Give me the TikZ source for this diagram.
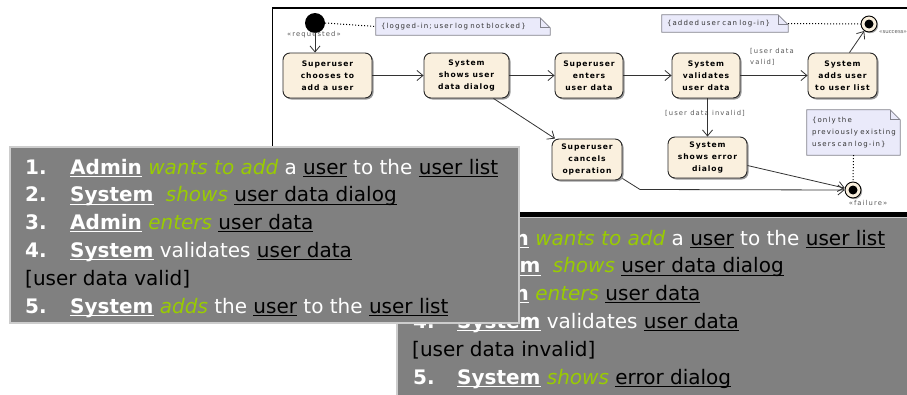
\documentclass[tikz,border=0pt]{standalone}
\usepackage{fontspec}
\setmainfont{DejaVu Sans}
\newfontfamily\dfont[LetterSpace=12]{DejaVu Sans}
\newfontfamily\nfont[LetterSpace=16]{DejaVu Sans}
\usetikzlibrary{arrows.meta,shadows,backgrounds}
\definecolor{boxgray}{RGB}{128,128,128}
\definecolor{boxedge}{RGB}{205,205,205}
\definecolor{verbgreen}{RGB}{153,204,0}
\definecolor{statefill}{RGB}{250,240,222}
\definecolor{notefill}{RGB}{234,234,250}
\definecolor{noteedge}{RGB}{130,130,140}
\definecolor{lblgray}{RGB}{90,90,90}
\newsavebox\ulbox
\newcommand\myul[1]{\leavevmode\sbox\ulbox{#1}\rlap{\rule[-2.6pt]{\wd\ulbox}{0.9pt}}\usebox\ulbox}
\newcommand\Actor[1]{{\bfseries\color{white}\myul{#1}}}
\newcommand\Verb[1]{{\itshape\color{verbgreen}#1}}
\newcommand\Obj[1]{{\color{black}\myul{#1}}}
\tikzset{
  actbox/.style={rounded corners=7pt, draw=black!85, line width=0.9pt, fill=statefill,
    minimum height=45pt, align=center, inner sep=2pt,
    font=\dfont\bfseries\fontsize{7.6}{12.2}\selectfont,
    drop shadow={shadow xshift=1.5pt, shadow yshift=-1.5pt, fill=black!40, opacity=1}},
  notebox/.style={align=left, inner xsep=5pt, inner ysep=1pt, text=black!80,
    font=\nfont\fontsize{7}{11.7}\selectfont},
  notedraw/.style={draw=noteedge, fill=notefill, line width=0.7pt},
  lbl/.style={inner sep=0pt, text=lblgray, font=\nfont\fontsize{6.8}{11}\selectfont, align=left},
  flow/.style={draw=black!80, line width=0.8pt, -{Straight Barb[length=6pt,width=10pt]}},
  dotline/.style={draw=black, line width=1pt, dotted},
  tline/.style={anchor=base west, inner sep=0pt, text=white, font=\fontsize{20}{24}\selectfont},
  graybox/.style={fill=boxgray, draw=boxedge, line width=1.3pt}
}
\begin{document}
\begin{tikzpicture}[x=1pt,y=1pt]
\useasboundingbox (0,0) rectangle (907,-394);
% diagram frame
\draw[black, line width=1.2pt] (272.5,-147) -- (272.5,-8) -- (907,-8);
% start / end states
\node[circle, fill=black, minimum size=20pt, inner sep=0pt] (init) at (315,-23) {};
\node[circle, draw=black, line width=0.9pt, fill=statefill, minimum size=16pt, inner sep=0pt,
  drop shadow={shadow xshift=1.2pt, shadow yshift=-1.2pt, fill=black!35, opacity=1}] (succ) at (869,-24) {};
\node[circle, fill=black, minimum size=9pt, inner sep=0pt] (succin) at (succ) {};
\node[circle, draw=black, line width=0.9pt, fill=statefill, minimum size=16pt, inner sep=0pt,
  drop shadow={shadow xshift=1.2pt, shadow yshift=-1.2pt, fill=black!35, opacity=1}] (fail) at (853,-190) {};
\node[circle, fill=black, minimum size=9pt, inner sep=0pt] (failin) at (fail) {};
\node[lbl] (lreq) at (314,-35) {«requested»};
\node[lbl, anchor=west, font=\fontsize{5.4}{8}\selectfont] (lsucc) at (879,-32) {«success»};
\node[lbl] (lfail) at (868,-203) {«failure»};
% actions
\node[actbox, minimum width=89pt] (n1) at (327.5,-75.5) {Superuser\\chooses to\\add a user};
\node[actbox, minimum width=85pt] (n2) at (466.5,-75.5) {System\\shows user\\data dialog};
\node[actbox, minimum width=68pt] (n3) at (589,-75.5) {Superuser\\enters\\user data};
\node[actbox, minimum width=68pt] (n4) at (706,-75.5) {System\\validates\\user data};
\node[actbox, minimum width=69pt] (n5) at (842.5,-75.5) {System\\adds user\\to user list};
\node[actbox, minimum width=70pt, minimum height=41pt] (ncan) at (587,-159.5) {Superuser\\cancels\\operation};
\node[actbox, minimum width=79pt, minimum height=41pt] (nerr) at (707.5,-157.5) {System\\shows error\\dialog};
% notes
\node[notebox, text width=164pt, minimum height=17pt] (note1) at (463,-26.5) {\{logged-in; user log not blocked\}};
\node[notebox, text width=116pt, minimum height=17pt] (note2) at (725,-23.5) {\{added user can log-in\}};
\node[notebox, text width=83pt, minimum height=45pt] (note3) at (853.5,-132.5) {\{only the\\previously existing\\users can log-in\}};
\begin{scope}[on background layer]
\foreach \n in {note1,note2,note3}{
  \draw[notedraw] (\n.south west) -- (\n.north west) -- ([xshift=-10pt]\n.north east)
    -- ([yshift=-10pt]\n.north east) -- (\n.south east) -- cycle;
  \draw[draw=noteedge, line width=0.7pt] ([xshift=-10pt]\n.north east) -- ([xshift=-10pt,yshift=-10pt]\n.north east)
    -- ([yshift=-10pt]\n.north east);
}
\end{scope}
% guards
\node[lbl, anchor=west] (gvalid) at (750,-57) {[user data\\valid]};
\node[lbl] (ginvalid) at (705,-113) {[user data invalid]};
% connectors
\draw[dotline] (init.east) -- (note1.west);
\draw[dotline] (note2.east) -- (succ.west);
\draw[dotline] (note3.south) -- (fail.north);
\draw[flow] (init.south) -- (init.south |- n1.north);
\draw[flow] (n1) -- (n2);
\draw[flow] (n2) -- (n3);
\draw[flow] (n3) -- (n4);
\draw[flow] (n4) -- (n5);
\draw[flow] ([xshift=7pt]n5.north) -- (succ);
\draw[flow] ([xshift=27pt]n2.south) -- (ncan);
\draw[flow] (n4.south -| nerr.north) -- (nerr.north);
\draw[flow] ([yshift=2pt]ncan.south east) -- (640,-189.5) -- (fail.west);
\draw[flow] ([yshift=-8pt]nerr.east) -- (fail);
% second text box
\fill[black] (397,-211.5) rectangle (907,-216.5);
\path[graybox] (397,-217.5) rectangle (910,-400);
\node[tline] (b1n) at (413,-245) {\bfseries 1.};
\node[tline] (b1t) at (457,-245) {\Actor{Admin} \Verb{wants to add} a \Obj{user} to the \Obj{user list}};
\node[tline] (b2n) at (413,-272.8) {\bfseries 2.};
\node[tline] (b2t) at (457,-272.8) {\Actor{System}\hspace{6pt} \Verb{shows} \Obj{user data dialog}};
\node[tline] (b3n) at (413,-300.6) {\bfseries 3.};
\node[tline] (b3t) at (457,-300.6) {\Actor{Admin} \Verb{enters} \Obj{user data}};
\node[tline] (b4n) at (413,-328.4) {\bfseries 4.};
\node[tline] (b4t) at (457,-328.4) {\Actor{System} validates \Obj{user data}};
\node[tline, text=black] (b5) at (412,-356.2) {[user data invalid]};
\node[tline] (b6n) at (413,-384) {\bfseries 5.};
\node[tline] (b6t) at (457,-384) {\Actor{System} \Verb{shows} \Obj{error dialog}};
% first text box
\path[graybox] (10,-147) rectangle (519,-323);
\node[tline] (a1n) at (25,-174) {\bfseries 1.};
\node[tline] (a1t) at (70,-174) {\Actor{Admin} \Verb{wants to add} a \Obj{user} to the \Obj{user list}};
\node[tline] (a2n) at (25,-201.8) {\bfseries 2.};
\node[tline] (a2t) at (70,-201.8) {\Actor{System}\hspace{6pt} \Verb{shows} \Obj{user data dialog}};
\node[tline] (a3n) at (25,-229.6) {\bfseries 3.};
\node[tline] (a3t) at (70,-229.6) {\Actor{Admin} \Verb{enters} \Obj{user data}};
\node[tline] (a4n) at (25,-257.4) {\bfseries 4.};
\node[tline] (a4t) at (70,-257.4) {\Actor{System} validates \Obj{user data}};
\node[tline, text=black] (a5) at (25,-285.2) {[user data valid]};
\node[tline] (a6n) at (25,-313) {\bfseries 5.};
\node[tline] (a6t) at (70,-313) {\Actor{System} \Verb{adds} the \Obj{user} to the \Obj{user list}};
\end{tikzpicture}
\end{document}
